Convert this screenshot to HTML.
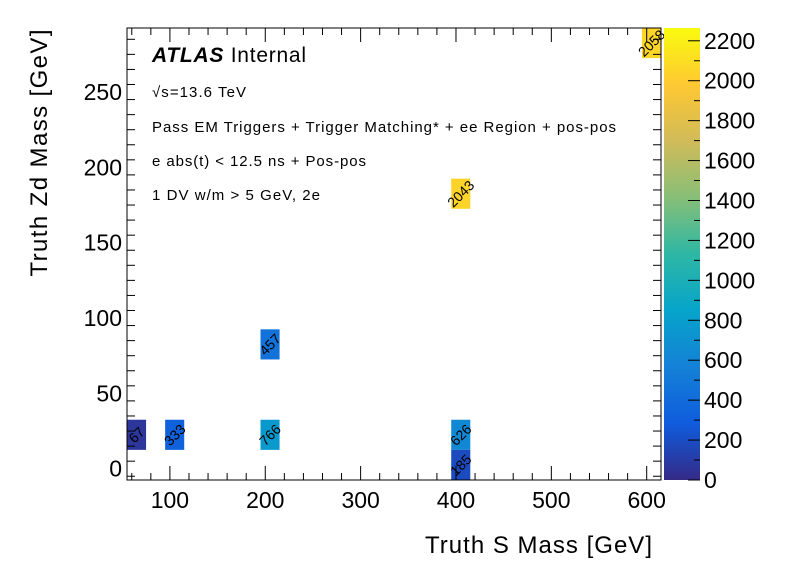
<!DOCTYPE html>
<html><head><meta charset="utf-8"><style>
body{margin:0;background:#fff;}
svg text{font-family:"Liberation Sans",sans-serif;}
</style></head><body>
<svg id="c" width="796" height="572" xmlns="http://www.w3.org/2000/svg">
<rect width="796" height="572" fill="#fff"/>
<g id="cells"></g>
<g id="axes"></g>
<g id="pal"></g>
<text x="152" y="62" font-size="21" textLength="154"><tspan font-weight="bold" font-style="italic">ATLAS</tspan> Internal</text>
<text x="152" y="97" font-size="15" textLength="94">√s=13.6 TeV</text>
<text x="152" y="132" font-size="15" textLength="464">Pass EM Triggers + Trigger Matching* + ee Region + pos-pos</text>
<text x="152" y="166" font-size="15" textLength="214">e abs(t) &lt; 12.5 ns + Pos-pos</text>
<text x="152" y="200" font-size="15" textLength="168">1 DV w/m &gt; 5 GeV, 2e</text>
<text x="652" y="553" font-size="24" text-anchor="end" textLength="227">Truth S Mass [GeV]</text>
<text transform="translate(47,153) rotate(-90)" font-size="24" text-anchor="middle" textLength="247">Truth Zd Mass [GeV]</text>
</svg>
<script>
const xCenters=[65,105,205,405,405,205,405,605];
const yCenters=[22.5,22.5,22.5,22.5,2.5,82.5,182.5,282.5];
const counts=[67,333,766,626,185,457,2043,2058];
const xTicks=[100,200,300,400,500,600];
const yTicks=[0,50,100,150,200,250];
const zTicks=[0,200,400,600,800,1000,1200,1400,1600,1800,2000,2200];
const NS='http://www.w3.org/2000/svg';
const L=127,R=661,T=28,B=480,xmin=55,xmax=615,ymin=-7.5,ymax=292.5,zmax=2264,bw=20;
const X=v=>L+(v-xmin)/(xmax-xmin)*(R-L);
const Y=v=>B-(v-ymin)/(ymax-ymin)*(B-T);
const PX=664,PW=36;
const Z=v=>B-v/zmax*(B-T);
const stops=[[0.2082,0.1664,0.5293],[0.0592,0.3599,0.8684],[0.0780,0.5041,0.8385],[0.0232,0.6419,0.7914],[0.1802,0.7178,0.6425],[0.5301,0.7492,0.4662],[0.8186,0.7328,0.3499],[0.9956,0.7862,0.1968],[0.9764,0.9832,0.0539]];
function col(f){f=Math.max(0,Math.min(1,f));const p=f*8,i=Math.min(7,Math.floor(p)),t=p-i;const a=stops[i],b=stops[i+1];return 'rgb('+a.map((v,k)=>Math.round(255*(v+(b[k]-v)*t))).join(',')+')';}
function mk(tag,at,par){const e=document.createElementNS(NS,tag);for(const k in at)e.setAttribute(k,at[k]);par.appendChild(e);return e;}
const cells=document.getElementById('cells'),axes=document.getElementById('axes'),pal=document.getElementById('pal');
counts.forEach((c,i)=>{
 const x0=X(xCenters[i]-bw/2),x1=X(xCenters[i]+bw/2),y0=Y(yCenters[i]+bw/2),y1=Y(yCenters[i]-bw/2);
 const r=mk('rect',{x:x0,y:y0,width:x1-x0,height:y1-y0,fill:col(c/zmax)},cells);
 
 
 const cx=(x0+x1)/2,cy=(y0+y1)/2;
 const t=mk('text',{x:cx,y:cy+5,'font-size':14,'text-anchor':'middle',transform:'rotate(-45 '+cx+' '+cy+')'},cells);
 t.textContent=c;
 
 
});
const g=mk('linearGradient',{id:'pg',x1:0,y1:1,x2:0,y2:0},mk('defs',{},pal));
for(let i=0;i<=8;i++)mk('stop',{offset:i/8,'stop-color':col(i/8)},g);
const pr=mk('rect',{x:PX,y:T,width:PW,height:B-T,fill:'url(#pg)'},pal);


zTicks.forEach(v=>{const y=Z(v);mk('line',{x1:PX+PW-12,x2:PX+PW,y1:y,y2:y,stroke:'#000'},pal);
 const t=mk('text',{x:PX+PW+4,y:y+8,'font-size':23},pal);t.textContent=v;
 
 });
for(let v=0;v<zmax;v+=100){if(v%200){const y=Z(v);mk('line',{x1:PX+PW-6,x2:PX+PW,y1:y,y2:y,stroke:'#000'},pal);}}
mk('rect',{x:L,y:T,width:R-L,height:B-T,fill:'none',stroke:'#000','stroke-width':1},axes);
for(let v=60;v<=610;v+=20){const x=X(v),maj=v%100===0,len=maj?14:7;
 mk('line',{x1:x,x2:x,y1:B,y2:B-len,stroke:'#000'},axes);mk('line',{x1:x,x2:x,y1:T,y2:T+len,stroke:'#000'},axes);}
xTicks.forEach(v=>{const t=mk('text',{x:X(v),y:B+28,'font-size':23,'text-anchor':'middle'},axes);t.textContent=v;
 
 });
for(let v=-5;v<=290;v+=10){const y=Y(v),maj=v%50===0,len=maj?16:8;
 mk('line',{x1:L,x2:L+len,y1:y,y2:y,stroke:'#000'},axes);mk('line',{x1:R,x2:R-len,y1:y,y2:y,stroke:'#000'},axes);}
yTicks.forEach(v=>{const t=mk('text',{x:L-5,y:Y(v)+8,'font-size':23,'text-anchor':'end'},axes);t.textContent=v;
 
 });
</script>
</body></html>
